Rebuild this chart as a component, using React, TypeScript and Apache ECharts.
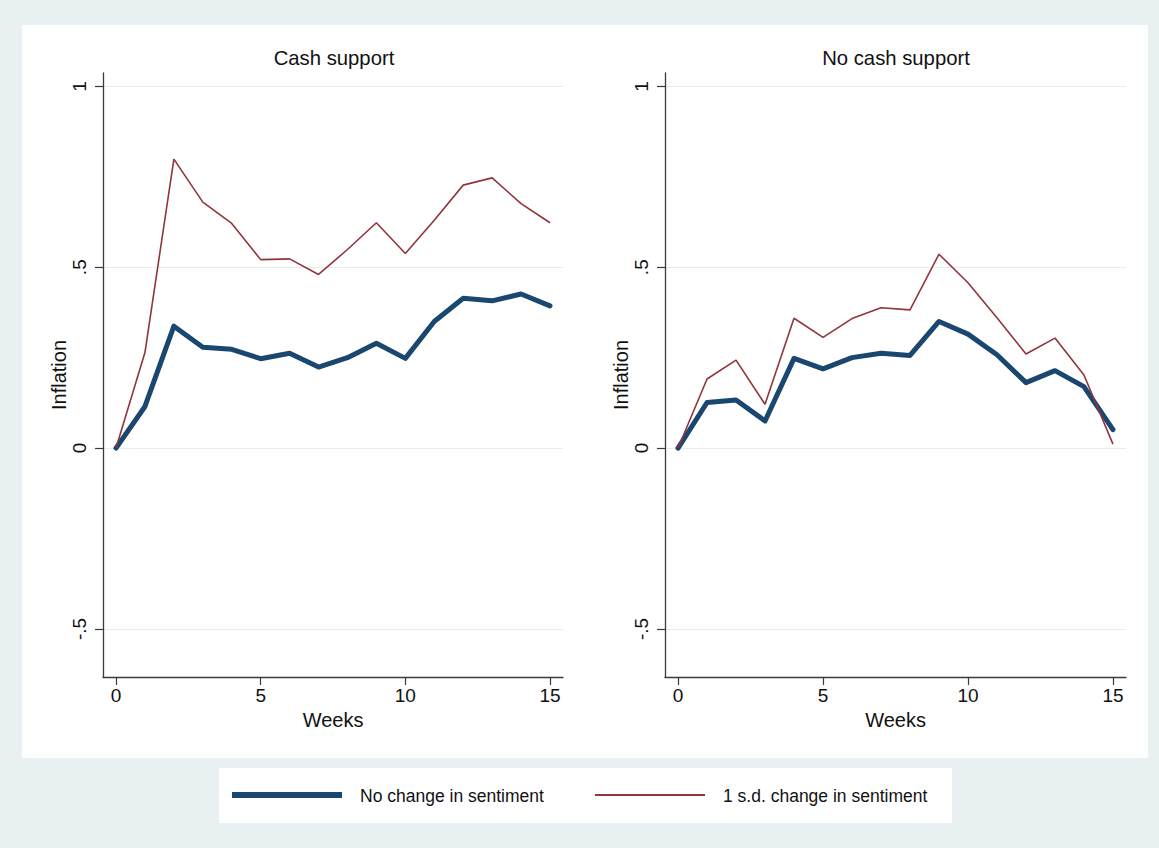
import React, { useEffect, useRef } from "react";
import * as echarts from "echarts";

// Weeks since the shock
const weeks = [0, 1, 2, 3, 4, 5, 6, 7, 8, 9, 10, 11, 12, 13, 14, 15];

// Inflation response, "Cash support" panel
const cashNoChange = [0, 0.115, 0.337, 0.279, 0.273, 0.247, 0.262, 0.224, 0.25, 0.29, 0.248, 0.35, 0.414, 0.407, 0.426, 0.393];
const cashOneSd = [0, 0.264, 0.799, 0.68, 0.621, 0.521, 0.523, 0.48, 0.549, 0.623, 0.538, 0.63, 0.727, 0.747, 0.676, 0.623];

// Inflation response, "No cash support" panel
const noCashNoChange = [0, 0.126, 0.133, 0.075, 0.248, 0.219, 0.25, 0.262, 0.256, 0.35, 0.315, 0.258, 0.181, 0.214, 0.17, 0.051];
const noCashOneSd = [0, 0.191, 0.243, 0.121, 0.359, 0.306, 0.358, 0.388, 0.382, 0.536, 0.457, 0.36, 0.26, 0.304, 0.202, 0.011];

const panelTitles = ["Cash support", "No cash support"];
const seriesNames = ["No change in sentiment", "1 s.d. change in sentiment"];
const xTicks = [0, 5, 10, 15];
const yTicks = [-0.5, 0, 0.5, 1];
const xAxisTitle = "Weeks";
const yAxisTitle = "Inflation";

const NAVY = "#1a476f";
const MAROON = "#90353b";
const FONT = "'Liberation Sans', Arial, Helvetica, sans-serif";
const AXIS_COLOR = "#3a3a3a";
const GRID_COLOR = "#e4edf0";

const fmtY = (v: number) => String(v).replace("0.", ".");

const panels = [
  { title: panelTitles[0], noChange: cashNoChange, oneSd: cashOneSd, left: 103, width: 460 },
  { title: panelTitles[1], noChange: noCashNoChange, oneSd: noCashOneSd, left: 665, width: 461 },
];

export default function App() {
  const ref = useRef<HTMLDivElement>(null);

  useEffect(() => {
    document.body.style.margin = "0";
    if (!ref.current) return;
    const chart = echarts.init(ref.current, undefined, { renderer: "svg" });

    const grids = panels.map((p) => ({ left: p.left, top: 73, width: p.width, height: 604 }));

    const xAxes = panels.map((_, i) => ({
      type: "value",
      gridIndex: i,
      min: -0.45,
      max: 15.45,
      axisLine: { show: true, onZero: false, lineStyle: { color: AXIS_COLOR, width: 1.3 } },
      axisTick: { show: true, customValues: xTicks, length: 8, lineStyle: { color: AXIS_COLOR, width: 1.2 } },
      axisLabel: { customValues: xTicks, fontSize: 19, fontFamily: FONT, color: "#111", margin: 9 },
      splitLine: { show: false },
      name: xAxisTitle,
      nameLocation: "middle",
      nameGap: 30,
      nameTextStyle: { fontSize: 20, fontFamily: FONT, color: "#111" },
    }));

    const yAxes = panels.map((_, i) => ({
      type: "value",
      gridIndex: i,
      min: -0.633,
      max: 1.037,
      axisLine: { show: true, onZero: false, lineStyle: { color: AXIS_COLOR, width: 1.3 } },
      axisTick: { show: true, customValues: yTicks, length: 8, lineStyle: { color: AXIS_COLOR, width: 1.2 } },
      axisLabel: {
        customValues: yTicks,
        rotate: 90,
        formatter: fmtY,
        fontSize: 19,
        fontFamily: FONT,
        color: "#111",
        margin: 14,
      },
      splitLine: { show: true, lineStyle: { color: GRID_COLOR, width: 1.2 } },
      name: yAxisTitle,
      nameLocation: "middle",
      nameRotate: 90,
      nameGap: 33,
      nameTextStyle: { fontSize: 20, fontFamily: FONT, color: "#111" },
    }));

    const series: any[] = [];
    panels.forEach((p, i) => {
      series.push({
        name: seriesNames[0],
        type: "line",
        xAxisIndex: i,
        yAxisIndex: i,
        data: weeks.map((w, k) => [w, p.noChange[k]]),
        showSymbol: false,
        symbol: "none",
        lineStyle: { color: NAVY, width: 5, join: "round", cap: "round" },
        z: 3,
        silent: true,
      });
      series.push({
        name: seriesNames[1],
        type: "line",
        xAxisIndex: i,
        yAxisIndex: i,
        data: weeks.map((w, k) => [w, p.oneSd[k]]),
        showSymbol: false,
        symbol: "none",
        lineStyle: { color: MAROON, width: 1.6 },
        z: 4,
        silent: true,
      });
    });

    const titleCenters = [334, 896];
    const graphic: any[] = [
      { type: "rect", z: -10, silent: true, shape: { x: 22, y: 25, width: 1126, height: 733 }, style: { fill: "#ffffff" } },
      { type: "rect", z: -10, silent: true, shape: { x: 219, y: 768, width: 733, height: 55 }, style: { fill: "#ffffff" } },
      ...panels.map((p, i) => ({
        type: "text",
        x: titleCenters[i],
        y: 58,
        style: { text: p.title, fill: "#111", font: `20.3px ${FONT}`, align: "center", verticalAlign: "middle" },
      })),
      // legend keys
      { type: "line", shape: { x1: 232, y1: 795, x2: 342, y2: 795 }, style: { stroke: NAVY, lineWidth: 6 } },
      { type: "text", x: 360, y: 796, style: { text: seriesNames[0], fill: "#111", font: `17.5px ${FONT}`, verticalAlign: "middle" } },
      { type: "line", shape: { x1: 595, y1: 795, x2: 705, y2: 795 }, style: { stroke: MAROON, lineWidth: 2 } },
      { type: "text", x: 723, y: 796, style: { text: seriesNames[1], fill: "#111", font: `17.5px ${FONT}`, verticalAlign: "middle" } },
    ];

    chart.setOption({
      animation: false,
      backgroundColor: "#e8f0f2",
      grid: grids,
      xAxis: xAxes,
      yAxis: yAxes,
      series,
      graphic,
    });

    return () => chart.dispose();
  }, []);

  return <div ref={ref} style={{ width: 1159, height: 848 }} />;
}
